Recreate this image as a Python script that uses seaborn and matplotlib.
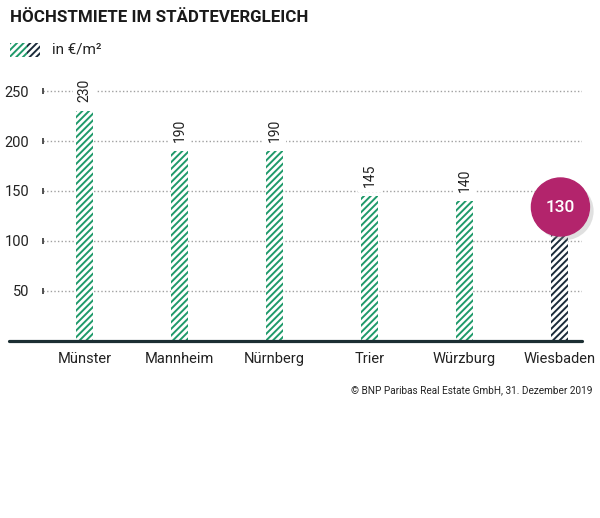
import matplotlib
matplotlib.use("Agg")
import matplotlib.pyplot as plt
import seaborn as sns
from matplotlib.patches import Rectangle
from matplotlib.lines import Line2D
import matplotlib.patheffects as pe

cities = ["Münster", "Mannheim", "Nürnberg", "Trier", "Würzburg", "Wiesbaden"]
rents = [230, 190, 190, 145, 140, 130]
yticks = [50, 100, 150, 200, 250]

GREEN = "#1f9a6a"
NAVY = "#1b2b3a"
MAGENTA = "#b3246c"
DARK = "#1c2f33"
HATCH = "/////"

sns.set_theme(style="white")
plt.rcParams["font.family"] = ["Roboto", "DejaVu Sans"]
plt.rcParams["hatch.linewidth"] = 1.4

fig = plt.figure(figsize=(6, 5.18), dpi=100)
W, H = 600, 518
ax = fig.add_axes([43 / W, (H - 341) / H, (582 - 43) / W, 270 / H])

colors = [GREEN] * 5 + [NAVY]
sns.barplot(x=cities, y=rents, hue=cities, palette=colors, legend=False,
            width=0.185, ax=ax, saturation=1)
for patch, c in zip(ax.patches, colors):
    patch.set_facecolor("white")
    patch.set_edgecolor(c)
    patch.set_hatch(HATCH)
    patch.set_linewidth(0)

ax.set_xlim(-0.437, 5.237)
ax.set_ylim(0, 270)
ax.set_yticks(yticks)
ax.set_yticklabels([str(t) for t in yticks])
ax.tick_params(axis="y", length=0, pad=10, labelsize=10.5, labelcolor="#222222")
ax.tick_params(axis="x", length=0, pad=8, labelsize=10.5, labelcolor="#222222")
ax.set_xlabel("")
ax.set_ylabel("")
for s in ax.spines.values():
    s.set_visible(False)

# dotted gridlines with a small tick at the start
for t in yticks:
    ax.axhline(t, color="#a0a0a0", lw=1, ls=(0, (1, 1.6)), zorder=0)
ax.plot([-0.437] * len(yticks), yticks, ls="none", marker="|", ms=4,
        mew=1.2, color="#333333", clip_on=False, zorder=3)

# value labels
for i, v in enumerate(rents[:-1]):
    ax.text(i, v + 9, str(v), rotation=90, ha="center", va="bottom",
            fontsize=10, color="#222222",
            bbox=dict(boxstyle="square,pad=0.35", fc="white", ec="none"), zorder=4)

# highlighted value in circle
i = len(rents) - 1
ax.scatter([i + 0.01], [rents[i] + 4], s=1745, color=MAGENTA, zorder=5, clip_on=False,
           path_effects=[pe.SimplePatchShadow(offset=(3, -3), shadow_rgbFace="#999999", alpha=0.3),
                         pe.Normal()])
ax.text(i + 0.01, rents[i] + 4, str(rents[i]), ha="center", va="center",
        fontsize=12.5, fontweight="medium", color="white", zorder=6)

# baseline
fig.add_artist(Line2D([9 / W, 582 / W], [(H - 341) / H] * 2, color=DARK, lw=2.3))

# title and legend
fig.text(10 / W, 1 - 17 / H, "HÖCHSTMIETE IM STÄDTEVERGLEICH", fontsize=12.2,
         fontweight="bold", color="#1a1a1a", va="center", ha="left")
fig.add_artist(Rectangle((10 / W, 1 - 57 / H), 17 / W, 14 / H, transform=fig.transFigure,
                         fc="white", ec=GREEN, lw=0, hatch=HATCH))
fig.add_artist(Rectangle((27 / W, 1 - 57 / H), 13 / W, 14 / H, transform=fig.transFigure,
                         fc="white", ec=NAVY, lw=0, hatch=HATCH))
fig.text(52 / W, 1 - 50 / H, "in €/m²", fontsize=11, color="#222222", va="center", ha="left")

# source
fig.text(592 / W, 1 - 390 / H, "© BNP Paribas Real Estate GmbH, 31. Dezember 2019",
         fontsize=7.2, color="#222222", ha="right", va="center")

fig.savefig("out.png", dpi=100)
